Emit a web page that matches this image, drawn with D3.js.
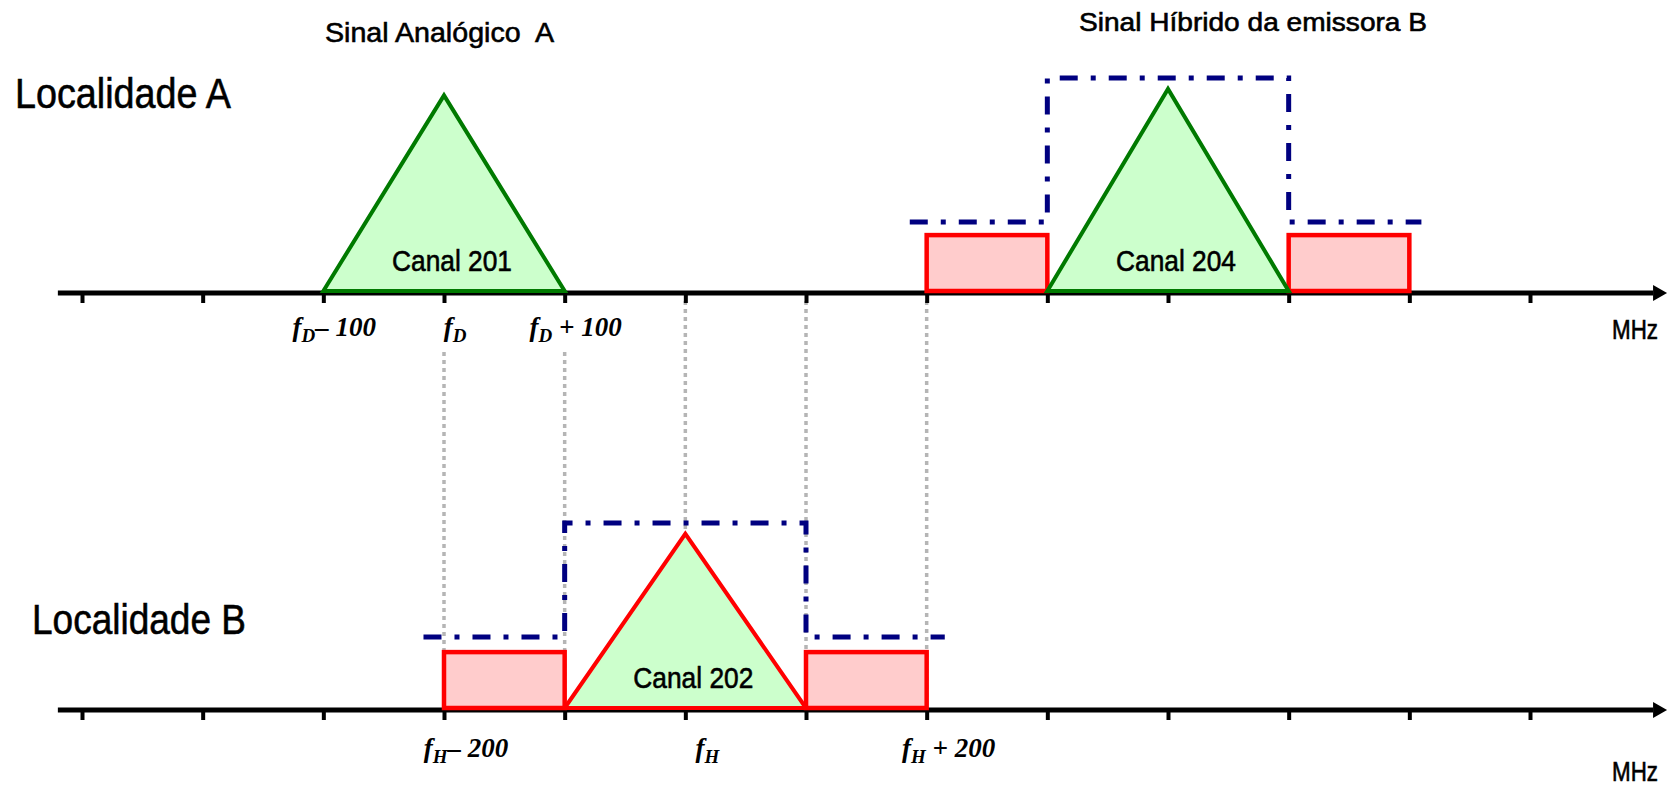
<!DOCTYPE html>
<html>
<head>
<meta charset="utf-8">
<script src="https://cdn.jsdelivr.net/npm/d3@7"></script>
<style>
  body { margin: 0; background: #fff; }
  svg { display: block; }
  .sans { font-family: "Liberation Sans", Arial, sans-serif; white-space: pre; stroke: #000; stroke-width: 0.6px; }
  .serif { font-family: "Liberation Serif", "Times New Roman", serif; font-weight: bold; font-style: italic; white-space: pre; }
</style>
</head>
<body>
<div id="wrapper"></div>
<script>
// frequencies are offsets in kHz (one tick = 100), levels in arbitrary units (0-100)
const tickFreqs = [0, 100, 200, 300, 400, 500, 600, 700, 800, 900, 1000, 1100, 1200]
const axisSpan = [-20, 1302]
const halfBand = 100

// Localidade A
const channelsA = [
  { label: "Canal 201", centre: 300, level: 91, kind: "analog" },
  { label: "Canal 204", centre: 900, level: 94, kind: "analog" },
]
const sidebandsA = [[700, 800], [1000, 1100]]
const sidebandLevelA = 26
const maskA = [[686, 33], [800, 33], [800, 100], [1000, 100], [1000, 33], [1110, 33]]
const freqLabelsA = [
  { f: 200, sub: "D", rest: "– 100" },
  { f: 300, sub: "D", rest: "" },
  { f: 400, sub: "D", rest: " + 100" },
]

// Localidade B
const channelsB = [
  { label: "Canal 202", centre: 500, level: 81, kind: "hybrid" },
]
const sidebandsB = [[300, 400], [600, 700]]
const sidebandLevelB = 26
const maskB = [[283, 34], [400, 34], [400, 87], [600, 87], [600, 34], [715, 34]]
const freqLabelsB = [
  { f: 300, sub: "H", rest: "– 200" },
  { f: 500, sub: "H", rest: "" },
  { f: 700, sub: "H", rest: " + 200" },
]

// grey guides joining the two axes
const guidesFromLabels = [300, 400]
const guidesFromAxis = [500, 600, 700]

// 1. Dimensions
const dimensions = {
  width: 1670,
  height: 787,
  baseA: 293,
  baseB: 710,
}

// 2. Canvas
const wrapper = d3.select("#wrapper")
  .append("svg")
    .attr("width", dimensions.width)
    .attr("height", dimensions.height)

wrapper.append("defs").append("marker")
    .attr("id", "arrow")
    .attr("markerUnits", "userSpaceOnUse")
    .attr("viewBox", "0 -9 16 18")
    .attr("refX", 0)
    .attr("refY", 0)
    .attr("markerWidth", 16)
    .attr("markerHeight", 18)
    .attr("orient", "auto")
  .append("path")
    .attr("d", "M0,-8L14,0L0,8Z")
    .attr("fill", "#000")

// 3. Scales
const xScale = d3.scaleLinear()
  .domain([0, 1200])
  .range([82, 1530])

const yScale = d3.scaleLinear()
  .domain([0, 100])
  .range([0, -215])

const line = d3.line()
  .x(d => xScale(d[0]))
  .y(d => yScale(d[1]))

// 4. Guides (behind everything)
const guides = wrapper.append("g")
  .attr("stroke", "#b5b5b5")
  .attr("stroke-width", 3.5)
  .attr("stroke-dasharray", "4,4")

guides.selectAll(".g1")
  .data(guidesFromLabels)
  .enter().append("line")
    .attr("x1", d => xScale(d))
    .attr("x2", d => xScale(d))
    .attr("y1", 352)
    .attr("y2", dimensions.baseB)

guides.selectAll(".g2")
  .data(guidesFromAxis)
  .enter().append("line")
    .attr("x1", d => xScale(d))
    .attr("x2", d => xScale(d))
    .attr("y1", dimensions.baseA + 8)
    .attr("y2", dimensions.baseB)

// 5. Panels
function drawPanel(base, channels, sidebands, sidebandLevel, mask, freqLabels, labelDx, labelDy, unitDy) {
  const g = wrapper.append("g")
    .attr("transform", `translate(0, ${base})`)

  const axisGenerator = d3.axisBottom(xScale)
    .tickValues(tickFreqs)
    .tickSize(10)
    .tickSizeOuter(0)
    .tickFormat("")

  const axis = g.append("g").call(axisGenerator)
  axis.select(".domain").remove()
  axis.selectAll(".tick line")
    .attr("stroke", "#000")
    .attr("stroke-width", 4)

  g.append("line")
    .attr("x1", xScale(axisSpan[0]))
    .attr("x2", xScale(axisSpan[1]))
    .attr("stroke", "#000")
    .attr("stroke-width", 5)
    .attr("marker-end", "url(#arrow)")

  const shapes = g.append("g")
    .attr("transform", "translate(0, -2)")

  shapes.selectAll("rect")
    .data(sidebands)
    .enter().append("rect")
      .attr("x", d => xScale(d[0]))
      .attr("width", d => xScale(d[1]) - xScale(d[0]))
      .attr("y", yScale(sidebandLevel))
      .attr("height", -yScale(sidebandLevel))
      .attr("fill", "#ffcccc")
      .attr("stroke", "#ff0000")
      .attr("stroke-width", 4.5)

  shapes.selectAll("path.carrier")
    .data(channels)
    .enter().append("path")
      .attr("class", "carrier")
      .attr("d", d => line([[d.centre - halfBand, 0], [d.centre, d.level], [d.centre + halfBand, 0]]) + "Z")
      .attr("fill", "#ccffcc")
      .attr("stroke", d => d.kind === "analog" ? "#007a00" : "#ff0000")
      .attr("stroke-width", 4)

  g.append("path")
    .attr("d", line(mask))
    .attr("fill", "none")
    .attr("stroke", "#000080")
    .attr("stroke-width", 5)
    .attr("stroke-dasharray", "18,13,5,13")

  g.selectAll("text.canal")
    .data(channels)
    .enter().append("text")
      .attr("class", "canal sans")
      .attr("x", d => xScale(d.centre) + 8)
      .attr("y", -22)
      .attr("text-anchor", "middle")
      .attr("font-size", 30)
      .attr("textLength", 120)
      .attr("lengthAdjust", "spacingAndGlyphs")
      .text(d => d.label)

  const fl = g.selectAll("text.freq")
    .data(freqLabels)
    .enter().append("text")
      .attr("class", "freq serif")
      .attr("x", d => xScale(d.f) + labelDx)
      .attr("y", labelDy)
      .attr("text-anchor", "middle")
      .attr("font-size", 27)
  fl.append("tspan").text("f")
  fl.append("tspan").attr("dy", 6).attr("font-size", 19).text(d => d.sub)
  fl.append("tspan").attr("dy", -6).text(d => d.rest)

  g.append("text")
    .attr("class", "sans")
    .attr("x", 1658)
    .attr("y", unitDy)
    .attr("text-anchor", "end")
    .attr("font-size", 27)
    .attr("textLength", 46)
    .attr("lengthAdjust", "spacingAndGlyphs")
    .text("MHz")
}

drawPanel(dimensions.baseA, channelsA, sidebandsA, sidebandLevelA, maskA, freqLabelsA, 11, 43, 46)
drawPanel(dimensions.baseB, channelsB, sidebandsB, sidebandLevelB, maskB, freqLabelsB, 22, 47, 71)

// 6. Titles
const titles = [
  { text: "Localidade A", x: 15, y: 108, size: 43, len: 216 },
  { text: "Localidade B", x: 32, y: 634, size: 43, len: 214 },
  { text: "Sinal Analógico  A", x: 325, y: 42, size: 28, len: 229 },
  { text: "Sinal Híbrido da emissora B", x: 1079, y: 31, size: 26, len: 348 },
]

wrapper.selectAll("text.title")
  .data(titles)
  .enter().append("text")
    .attr("class", "title sans")
    .attr("x", d => d.x)
    .attr("y", d => d.y)
    .attr("font-size", d => d.size)
    .attr("textLength", d => d.len)
    .attr("lengthAdjust", "spacingAndGlyphs")
    .text(d => d.text)
</script>
</body>
</html>
